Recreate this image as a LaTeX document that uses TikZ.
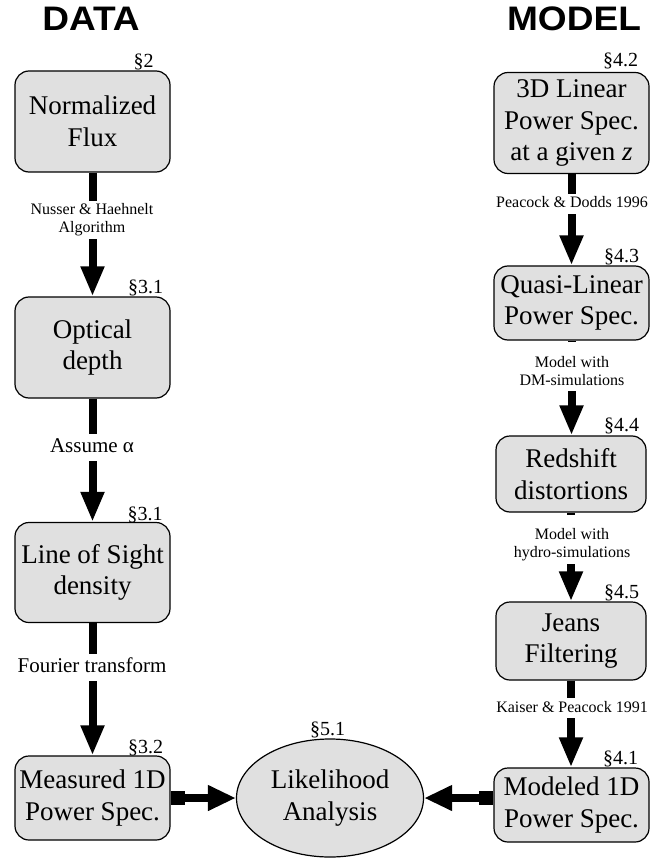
\documentclass[tikz,border=0pt]{standalone}
\usepackage{fontspec}
\setmainfont{Liberation Serif}
\newfontfamily\titlefont{Liberation Sans}
\usetikzlibrary{arrows.meta,shapes.geometric}
\definecolor{boxgray}{RGB}{224,224,224}
\begin{document}
\begin{tikzpicture}[x=1pt,y=-1pt,
  box/.style={draw=black, line width=1.2pt, fill=boxgray, rounded corners=14pt, align=center, inner sep=0pt, font=\fontsize{27}{31.5}\selectfont},
  ell/.style={draw=black, line width=1.2pt, fill=boxgray, ellipse, align=center, inner sep=0pt, minimum width=187pt, minimum height=118pt, font=\fontsize{27}{32}\selectfont},
  sec/.style={anchor=base, font=\fontsize{20}{24}\selectfont, inner sep=0pt},
  arr/.style={line width=8pt, -{Triangle[length=30pt,width=22pt]}},
  harr/.style={line width=8.5pt, {Square[length=14pt,width=14pt]}-{Triangle[length=28pt,width=24pt]}},
  slbl/.style={fill=white, align=center, inner xsep=2pt, inner ysep=1pt, font=\fontsize{16}{18}\selectfont},
  mlbl/.style={fill=white, inner xsep=2pt, inner ysep=1pt, font=\fontsize{21}{25}\selectfont},
  title/.style={font=\titlefont\bfseries\fontsize{34}{40}\selectfont, inner sep=0pt, anchor=base}
]
\fill[white] (0,0) rectangle (667,858);
\useasboundingbox (0,0) rectangle (667,858);

% titles
\node[title] (tdata) at (91,31) {\scalebox{1.09}[1]{DATA}};
\node[title] (tmodel) at (574,31) {\scalebox{1.09}[1]{MODEL}};

% left column
\node[box, minimum width=155pt, minimum height=101pt] (flux) at (92.5,121.5) {Normalized\\Flux};
\node[box, minimum width=155pt, minimum height=101pt] (opt) at (92.5,347.5) {Optical\\depth};
\node[box, minimum width=155pt, minimum height=100pt] (los) at (92.5,572.5) {Line of Sight\\density};
\node[box, minimum width=155pt, minimum height=84pt] (meas) at (92.5,798) {Measured 1D\\Power Spec.};

% right column
\node[box, minimum width=155pt, minimum height=101pt] (lin) at (571.5,123) {3D Linear\\Power Spec.\\at a given \textit{z}};
\node[box, minimum width=155pt, minimum height=74pt] (quasi) at (571.5,303) {Quasi-Linear\\Power Spec.};
\node[box, minimum width=150pt, minimum height=76pt] (red) at (571,474) {Redshift\\distortions};
\node[box, minimum width=150pt, minimum height=78pt] (jeans) at (571,641) {Jeans\\Filtering};
\node[box, minimum width=155pt, minimum height=74pt] (mod) at (571.5,805) {Modeled 1D\\Power Spec.};

% likelihood
\node[ell] (lik) at (330,798) {Likelihood\\Analysis};

% section labels
\node[sec] (s2) at (143.5,68) {§2};
\node[sec] (s31a) at (145.5,294) {§3.1};
\node[sec] (s31b) at (145,520) {§3.1};
\node[sec] (s32) at (145.5,753) {§3.2};
\node[sec] (s42) at (620.5,67) {§4.2};
\node[sec] (s43) at (621.5,262) {§4.3};
\node[sec] (s44) at (621.5,431) {§4.4};
\node[sec] (s45) at (621.5,598) {§4.5};
\node[sec] (s41) at (620.5,764) {§4.1};
\node[sec] (s51) at (327.5,735) {§5.1};

% left arrows
\draw[arr] (flux.south) -- (opt.north);
\draw[arr] (opt.south) -- (los.north);
\draw[arr] (los.south) -- (meas.north);
\node[slbl] (l1) at (92,220.4) {\strut Nusser \& Haehnelt\\Algorithm\strut};
\node[mlbl] (l2) at (92,447) {\strut Assume α};
\node[mlbl] (l3) at (92,667) {\strut Fourier transform};

% right arrows
\draw[arr] (lin.south) -- (lin.south |- quasi.north);
\draw[arr] (quasi.south) -- (quasi.south |- red.north);
\draw[arr] (red.south) -- (jeans.north);
\draw[arr] (jeans.south) -- (jeans.south |- mod.north);
\node[slbl] (r1) at (572,204.4) {\strut Peacock \& Dodds 1996};
\node[slbl] (r2) at (572,366.7) {\rule{0pt}{24pt}Model with\\DM-simulations\strut};
\node[slbl] (r3) at (572,539.2) {\rule{0pt}{24pt}Model with\\hydro-simulations\strut};
\node[slbl] (r4) at (572,708.4) {\strut Kaiser \& Peacock 1991};

% horizontal arrows
\draw[harr] (meas.east |- lik.west) -- (lik.west);
\draw[harr] (mod.west |- lik.east) -- (lik.east);
\end{tikzpicture}
\end{document}
